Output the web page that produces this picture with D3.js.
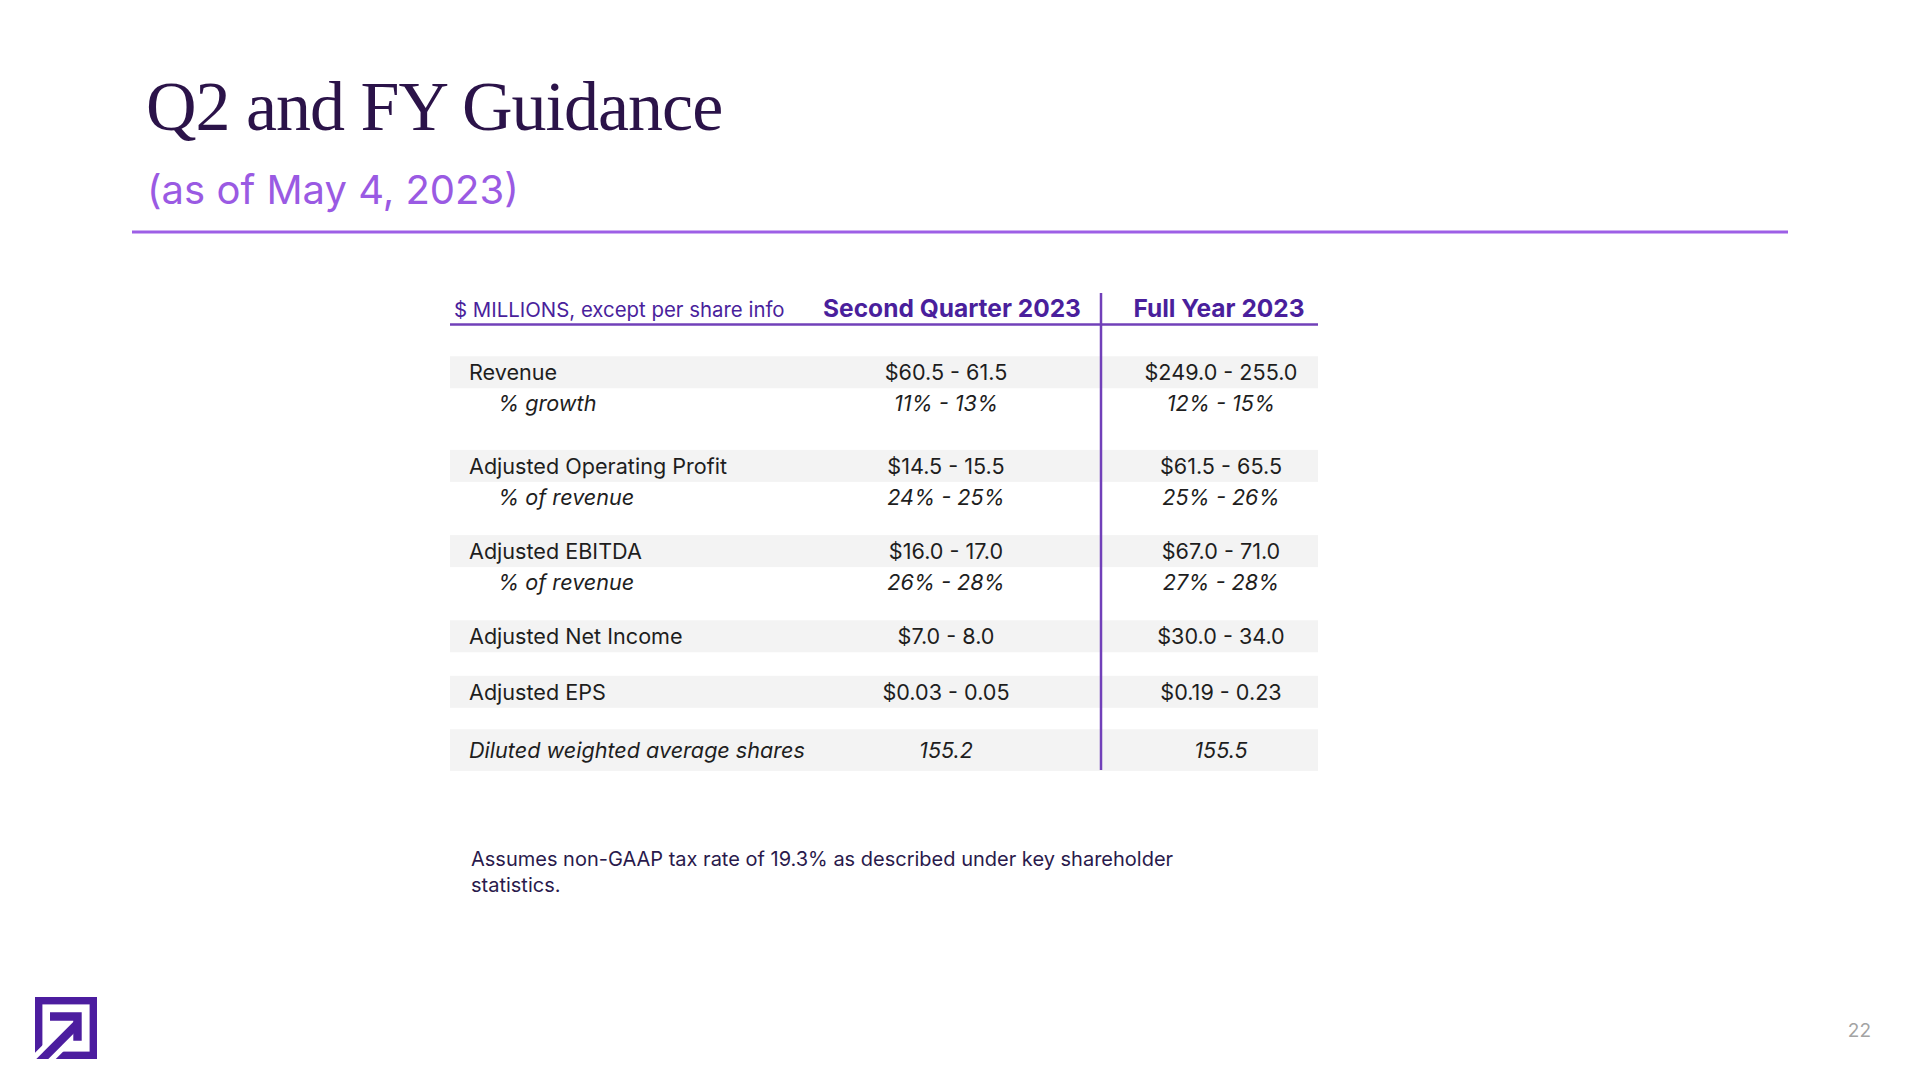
<!DOCTYPE html>
<html>
<head>
<meta charset="utf-8">
<script src="https://cdn.jsdelivr.net/npm/d3@7"></script>
<style>
  html, body { margin: 0; padding: 0; background: #ffffff; }
  svg { display: block; }
</style>
</head>
<body>
<svg id="chart" width="1920" height="1080"></svg>
<script>
// ---------- DATA ----------
const titleText = "Q2 and FY Guidance";
const subtitleText = "(as of May 4, 2023)";
const unitLabel = "$ MILLIONS, except per share info";
const columnHeaders = ["Second Quarter 2023", "Full Year 2023"];
const rowLabels = [
  "Revenue", "% growth",
  "Adjusted Operating Profit", "% of revenue",
  "Adjusted EBITDA", "% of revenue",
  "Adjusted Net Income",
  "Adjusted EPS",
  "Diluted weighted average shares"
];
const rowKinds = ["main", "sub", "main", "sub", "main", "sub", "main", "main", "shares"];
const q2Values = ["$60.5 - 61.5", "11% - 13%", "$14.5 - 15.5", "24% - 25%", "$16.0 - 17.0", "26% - 28%", "$7.0 - 8.0", "$0.03 - 0.05", "155.2"];
const fyValues = ["$249.0 - 255.0", "12% - 15%", "$61.5 - 65.5", "25% - 26%", "$67.0 - 71.0", "27% - 28%", "$30.0 - 34.0", "$0.19 - 0.23", "155.5"];
const footnoteLines = ["Assumes non-GAAP tax rate of 19.3% as described under key shareholder", "statistics."];
const pageNumber = "22";

// ---------- LAYOUT ----------
const svg = d3.select("#chart");
const C = {
  title: "#2b1349",
  sub: "#9a5ae3",
  rule: "#9d5fe6",
  head: "#4a1f9c",
  line: "#7140b9",
  text: "#1e1e1e",
  band: "#f3f3f3",
  logo: "#4c1d9f",
  page: "#a3a3a3",
  foot: "#2a1a4c"
};
const bodyFont = "Inter, 'Noto Sans', sans-serif";

// title
svg.append("text").attr("x", 146).attr("y", 130)
  .attr("font-family", "'Liberation Serif', 'DejaVu Serif', serif")
  .attr("font-size", 70).attr("letter-spacing", -1.0)
  .attr("fill", C.title).text(titleText);
svg.append("text").attr("x", 147).attr("y", 204)
  .attr("font-family", bodyFont).attr("font-size", 40)
  .attr("fill", C.sub).text(subtitleText);
svg.append("line").attr("x1", 132).attr("x2", 1788).attr("y1", 232).attr("y2", 232)
  .attr("stroke", C.rule).attr("stroke-width", 3);

// table geometry
const tableLeft = 450, tableRight = 1318, dividerX = 1101;
const colX = d3.scaleOrdinal().domain(["label", "q2", "fy"]).range([469, 946, 1221]);

// row vertical positions built from row kinds
const rowCenters = [];
let yCur = 372.3;
rowKinds.forEach((k, i) => {
  if (i > 0) {
    const prev = rowKinds[i - 1];
    let gap;
    if (k === "sub") gap = 31.2;
    else if (k === "shares") gap = 58.3;
    else if (prev === "main") gap = 55.5;
    else gap = (i === 2) ? 62.4 : 54;
    yCur += gap;
  }
  rowCenters.push(yCur);
});
const rows = rowLabels.map((label, i) => ({
  label, kind: rowKinds[i], q2: q2Values[i], fy: fyValues[i], y: rowCenters[i]
}));

// bands
svg.append("g").selectAll("rect")
  .data(rows.filter(r => r.kind !== "sub"))
  .join("rect")
  .attr("x", tableLeft).attr("width", tableRight - tableLeft)
  .attr("y", r => r.kind === "shares" ? r.y - 20.8 : r.y - 16)
  .attr("height", r => r.kind === "shares" ? 41.6 : 32)
  .attr("fill", C.band);

// header
svg.append("text").attr("x", 454).attr("y", 317)
  .attr("font-family", bodyFont).attr("font-size", 20.4)
  .attr("fill", C.head).text(unitLabel);
svg.append("g").selectAll("text")
  .data(columnHeaders).join("text")
  .attr("x", (d, i) => i === 0 ? 952 : 1219).attr("y", 317)
  .attr("text-anchor", "middle")
  .attr("font-family", bodyFont).attr("font-size", 24.5).attr("font-weight", 700)
  .attr("fill", C.head).text(d => d);
svg.append("line").attr("x1", tableLeft).attr("x2", tableRight).attr("y1", 324.5).attr("y2", 324.5)
  .attr("stroke", C.line).attr("stroke-width", 2.5);
svg.append("line").attr("x1", dividerX).attr("x2", dividerX).attr("y1", 293).attr("y2", 770)
  .attr("stroke", C.line).attr("stroke-width", 2.5);

// cells
const cellG = svg.append("g").attr("font-family", bodyFont).attr("font-size", 21.6).attr("fill", C.text);
rows.forEach(r => {
  const italic = r.kind !== "main" ? "italic" : "normal";
  const by = r.y + 7.8;
  cellG.append("text")
    .attr("x", colX("label") + (r.kind === "sub" ? 29 : 0))
    .attr("y", by)
    .attr("font-style", italic).text(r.label);
  cellG.append("text").attr("x", colX("q2")).attr("y", by)
    .attr("text-anchor", "middle").attr("font-style", italic).text(r.q2);
  cellG.append("text").attr("x", colX("fy")).attr("y", by)
    .attr("text-anchor", "middle").attr("font-style", italic).text(r.fy);
});

// footnote
svg.append("g").selectAll("text").data(footnoteLines).join("text")
  .attr("x", 471).attr("y", (d, i) => 866 + i * 26)
  .attr("font-family", bodyFont).attr("font-size", 20)
  .attr("fill", C.foot).text(d => d);

// page number
svg.append("text").attr("x", 1871).attr("y", 1037).attr("text-anchor", "end")
  .attr("font-family", bodyFont).attr("font-size", 19)
  .attr("fill", C.page).text(pageNumber);

// logo
const logo = svg.append("g");
const lx0 = 35, ly0 = 997, ls = 62, lt = 7.4;
logo.append("defs").append("clipPath").attr("id", "logoClip")
  .append("rect").attr("x", lx0).attr("y", ly0).attr("width", ls).attr("height", ls);
logo.append("rect").attr("x", lx0 + lt / 2).attr("y", ly0 + lt / 2)
  .attr("width", ls - lt).attr("height", ls - lt)
  .attr("fill", "none").attr("stroke", C.logo).attr("stroke-width", lt);
const lg = logo.append("g").attr("clip-path", "url(#logoClip)");
const k = 1101.3;
lg.append("line").attr("x1", 20).attr("y1", k - 20).attr("x2", 70).attr("y2", k - 70)
  .attr("stroke", "#ffffff").attr("stroke-width", 19);
lg.append("line").attr("x1", 20).attr("y1", k - 20).attr("x2", 78).attr("y2", k - 78)
  .attr("stroke", C.logo).attr("stroke-width", 8.5);
logo.append("path")
  .attr("d", "M50,1012.3 H81.7 V1040.7 H73.3 V1020.7 H50 Z")
  .attr("fill", C.logo);
</script>
</body>
</html>
